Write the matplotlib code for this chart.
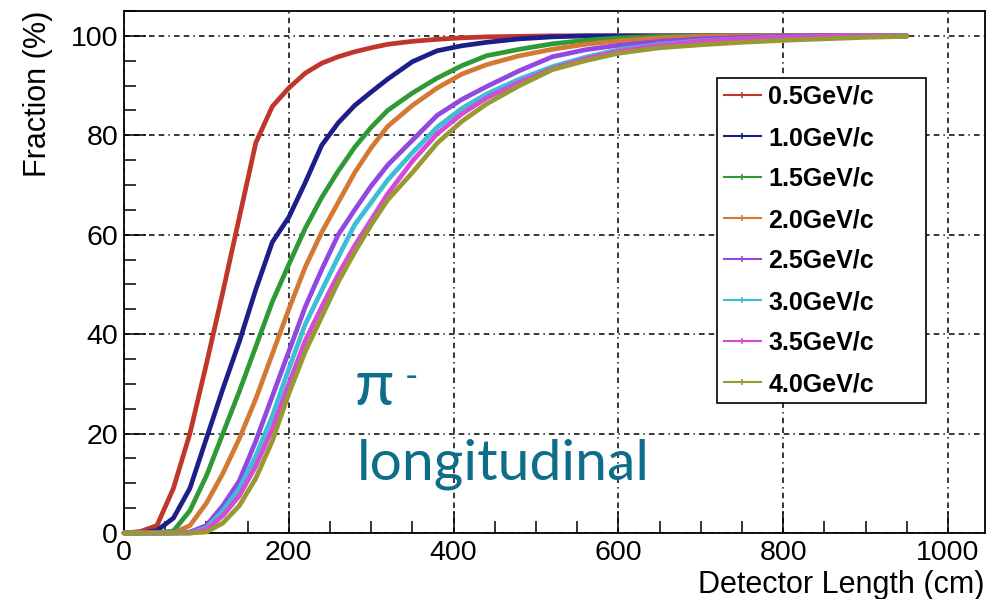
import matplotlib
matplotlib.use("Agg")
import matplotlib.pyplot as plt
from matplotlib.lines import Line2D
from matplotlib.ticker import MultipleLocator

plt.rcParams["font.family"] = ["Liberation Sans", "DejaVu Sans"]
plt.rcParams["lines.scale_dashes"] = False

# Detector length sampling points (cm)
length_cm = [0, 20, 40, 60, 80, 100, 120, 140, 160, 180, 200, 220, 240, 260, 280, 300,
             320, 350, 380, 410, 440, 480, 520, 560, 600, 650, 700, 750, 800, 850, 900, 950]

# Cumulative containment fraction (%) for each beam momentum
frac_0p5 = [0, 0.3, 1.5, 9, 20, 34, 48.5, 63.5, 78.5, 85.8, 89.5, 92.5, 94.5, 95.8, 96.8, 97.6,
            98.3, 98.9, 99.3, 99.6, 99.8, 99.9, 100, 100, 100, 100, 100, 100, 100, 100, 100, 100]
frac_1p0 = [0, 0, 0.5, 3, 9, 19, 29, 38.5, 49, 58.5, 63.5, 70.5, 78, 82.5, 86, 88.7,
            91.3, 94.8, 97, 98, 98.7, 99.4, 99.8, 100, 100, 100, 100, 100, 100, 100, 100, 100]
frac_1p5 = [0, 0, 0, 0.4, 4.5, 11.5, 20, 28.5, 37.5, 46.5, 54, 61.3, 67.5, 72.8, 77.6, 81.6,
            85, 88.5, 91.5, 94, 96, 97.3, 98.4, 99.1, 99.6, 99.9, 100, 100, 100, 100, 100, 100]
frac_2p0 = [0, 0, 0, 0, 1.5, 6, 12, 19, 27, 36, 45, 53.5, 60.5, 66.5, 72.5, 77.5,
            81.8, 86, 89.5, 92.3, 94.2, 96, 97.3, 98.3, 99, 99.6, 99.9, 100, 100, 100, 100, 100]
frac_2p5 = [0, 0, 0, 0, 0.2, 1.5, 5.5, 10.5, 18.5, 27.5, 36.5, 45.5, 53, 60, 65, 69.8,
            74, 79, 84, 87.2, 89.8, 93, 95.8, 97.2, 98.1, 98.9, 99.4, 99.7, 99.9, 100, 100, 100]
frac_3p0 = [0, 0, 0, 0, 0, 1, 4.5, 9, 15.5, 23.5, 33, 42, 48.8, 55.5, 62, 66.5,
            71, 76.5, 81.6, 85.4, 88.3, 91.3, 93.8, 95.7, 97.2, 98.3, 99, 99.4, 99.7, 99.9, 100, 100]
frac_3p5 = [0, 0, 0, 0, 0, 0.7, 3.5, 7.5, 13.5, 21, 30, 38.7, 45.5, 52, 57.8, 63,
            68.2, 74.8, 80.3, 84.3, 87.5, 90.7, 93.4, 95.4, 96.9, 98.1, 98.9, 99.4, 99.7, 99.9, 100, 100]
frac_4p0 = [0, 0, 0, 0, 0, 0.2, 2, 5.5, 11, 18.5, 28, 36.5, 43.5, 50.5, 56.5, 62,
            67, 72.5, 78.4, 82.8, 86.3, 90, 93.2, 95, 96.5, 97.6, 98.2, 98.7, 99.1, 99.4, 99.7, 99.9]

labels = ["0.5GeV/c", "1.0GeV/c", "1.5GeV/c", "2.0GeV/c",
          "2.5GeV/c", "3.0GeV/c", "3.5GeV/c", "4.0GeV/c"]
series = [frac_0p5, frac_1p0, frac_1p5, frac_2p0, frac_2p5, frac_3p0, frac_3p5, frac_4p0]
colors = ["#c0362a", "#1c1f8a", "#2f9a35", "#d27a34",
          "#9247e0", "#3bbfd6", "#d64ad8", "#999933"]

fig = plt.figure(figsize=(9.95, 5.99), dpi=100)
W, H = 995, 599
ax = fig.add_axes([124 / W, 1 - 533 / H, 861 / W, 522 / H])

for y, c in zip(series, colors):
    ax.plot(length_cm, y, color=c, lw=3.4, zorder=3, clip_on=False,
            solid_joinstyle="round", solid_capstyle="round")

ax.set_xlim(0, 1045)
ax.set_ylim(0, 105)
ax.set_xticks([0, 200, 400, 600, 800, 1000])
ax.set_yticks([0, 20, 40, 60, 80, 100])
ax.xaxis.set_minor_locator(MultipleLocator(50))
ax.yaxis.set_minor_locator(MultipleLocator(5))

ax.tick_params(which="both", direction="in", top=False, right=False, width=1.1,
               labelsize=20.5, colors="black")
ax.tick_params(which="major", length=15.8)
ax.tick_params(which="minor", length=8.3)
ax.tick_params(axis="y", pad=4.3)
ax.tick_params(axis="x", pad=5)

for s in ax.spines.values():
    s.set_linewidth(1.3)

ax.grid(True, which="major", color="black", lw=1.1,
        linestyle=(0, (4, 3, 4, 3, 1, 3)))

ax.set_xlabel("Detector Length (cm)", fontsize=22, loc="right")
ax.xaxis.set_label_coords(1.0, -0.070)
ax.set_ylabel("Fraction (%)", fontsize=22, loc="top")
ax.yaxis.set_label_coords(-0.0819, 1.0)

handles = [Line2D([], [], color=c, lw=1.5, marker="+", markersize=5, mew=1.2)
           for c in colors]
leg = ax.legend(handles, labels, loc="upper left", mode="expand",
                bbox_to_anchor=(717 / W, 1 - 403 / H, 209 / W, 325 / H),
                bbox_transform=fig.transFigure, borderaxespad=0,
                prop={"family": "Liberation Sans", "weight": "bold", "size": 18},
                handlelength=1.48, handletextpad=0.3, borderpad=0.28,
                labelspacing=0.68, numpoints=1, fancybox=False, framealpha=1)
leg.get_frame().set_edgecolor("black")
leg.get_frame().set_linewidth(1.2)
leg.set_zorder(5)

teal = "#0e6d8a"
fig.text(355 / W, 1 - 405 / H, "π", fontsize=46, color=teal,
         family=["Lato", "DejaVu Sans"], ha="left", va="baseline")
fig.text(405 / W, 1 - 388 / H, "-", fontsize=26, color=teal,
         family=["Lato", "DejaVu Sans"], ha="left", va="baseline")
fig.text(357 / W, 1 - 480 / H, "longitudinal", fontsize=41, color=teal,
         family=["Lato", "DejaVu Sans"], ha="left", va="baseline")

fig.savefig("out.png", dpi=100)
